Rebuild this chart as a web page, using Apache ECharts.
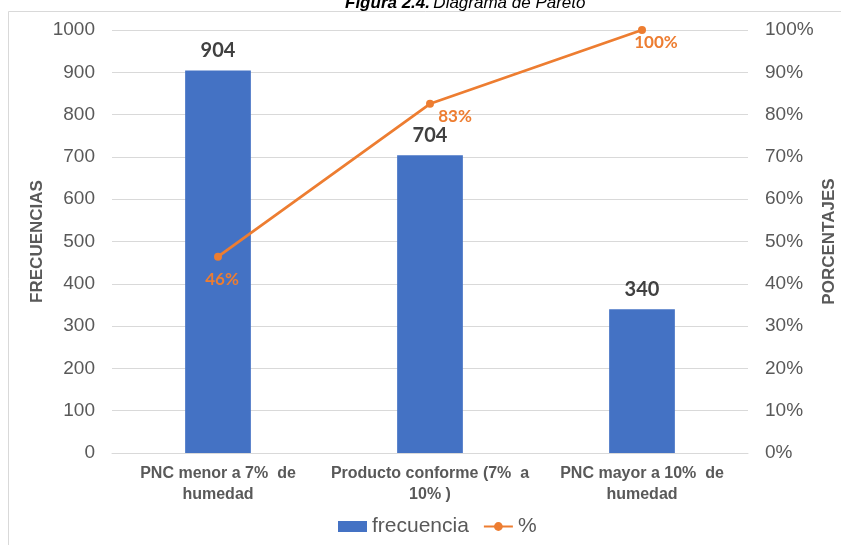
<!DOCTYPE html>
<html>
<head>
<meta charset="utf-8">
<script src="https://cdn.jsdelivr.net/npm/echarts@6/dist/echarts.min.js"></script>
<style>
  html, body { margin: 0; padding: 0; background: #fff; }
  #chart { width: 841px; height: 545px; }
</style>
</head>
<body>
<div id="chart"></div>
<script>
// Categories and values of the Pareto diagram
const categories = [
  'PNC menor a 7%  de\nhumedad',
  'Producto conforme (7%  a\n10% )',
  'PNC mayor a 10%  de\nhumedad'
];
const frecuencia = [904, 704, 340];
const porcentajeAcumulado = [46.41, 82.55, 100];
const leftTicks = [0, 100, 200, 300, 400, 500, 600, 700, 800, 900, 1000];
const rightTicks = ['0%', '10%', '20%', '30%', '40%', '50%', '60%', '70%', '80%', '90%', '100%'];

// per-point label nudges for the cumulative line
const lineLabelOffsets = [[4, 10], [25, 0], [14, 0]];

const axisFont = 'Liberation Sans, Arial, sans-serif';
const grey = '#595959';

const chart = echarts.init(document.getElementById('chart'), null, { renderer: 'canvas' });

chart.setOption({
  backgroundColor: '#fff',
  animation: false,
  graphic: [
    {
      type: 'rect',
      shape: { x: 8.5, y: 11.5, width: 900, height: 600 },
      style: { fill: 'none', stroke: '#d9d9d9', lineWidth: 1 },
      silent: true
    },
    {
      type: 'text',
      left: 345,
      top: -5,
      style: {
        text: '{b|Figura 2.4.} {i|Diagrama de Pareto}',
        rich: {
          b: { font: 'italic bold 17px Liberation Sans, Arial, sans-serif', fill: '#000' },
          i: { font: 'italic 17px Liberation Sans, Arial, sans-serif', fill: '#000' }
        }
      }
    }
  ],
  legend: {
    bottom: 3,
    left: 333,
    itemWidth: 29,
    itemHeight: 11,
    itemGap: 14,
    textStyle: { fontFamily: axisFont, fontSize: 21, color: grey },
    data: [
      { name: 'frecuencia', icon: 'rect' },
      { name: '%' }
    ]
  },
  grid: { left: 112, right: 93, top: 30, bottom: 92, containLabel: false, outerBoundsMode: 'none' },
  xAxis: {
    type: 'category',
    data: categories,
    axisLine: { lineStyle: { color: '#d9d9d9', width: 1 } },
    axisTick: { show: false },
    axisLabel: {
      fontFamily: axisFont,
      fontSize: 16,
      fontWeight: 'bold',
      color: grey,
      lineHeight: 21,
      margin: 10,
      interval: 0
    }
  },
  yAxis: [
    {
      type: 'value',
      min: 0,
      max: 1000,
      interval: 100,
      name: 'FRECUENCIAS',
      nameLocation: 'middle',
      nameGap: 66,
      nameMoveOverlap: false,
      nameRotate: 90,
      nameTextStyle: { fontFamily: axisFont, fontSize: 17, fontWeight: 'bold', color: grey },
      axisLine: { show: false },
      axisTick: { show: false },
      axisLabel: {
        fontFamily: axisFont, fontSize: 19, color: grey, margin: 17,
        formatter: v => String(leftTicks[Math.round(v / 100)])
      },
      splitLine: { lineStyle: { color: '#d9d9d9', width: 1 } }
    },
    {
      type: 'value',
      min: 0,
      max: 100,
      interval: 10,
      name: 'PORCENTAJES',
      nameLocation: 'middle',
      nameGap: 73,
      nameMoveOverlap: false,
      nameRotate: 90,
      nameTextStyle: { fontFamily: axisFont, fontSize: 17, fontWeight: 'bold', color: grey },
      axisLine: { show: false },
      axisTick: { show: false },
      axisLabel: {
        fontFamily: axisFont, fontSize: 19, color: grey, margin: 17,
        formatter: v => rightTicks[Math.round(v / 10)]
      },
      splitLine: { show: false }
    }
  ],
  series: [
    {
      name: 'frecuencia',
      type: 'bar',
      data: frecuencia,
      barWidth: '31%',
      itemStyle: { color: '#4472C4' },
      label: {
        show: true,
        position: 'top',
        distance: 10,
        fontFamily: 'Lato, Open Sans, sans-serif',
        fontSize: 20,
        fontWeight: 'bold',
        color: '#404040'
      }
    },
    {
      name: '%',
      type: 'line',
      yAxisIndex: 1,
      data: porcentajeAcumulado.map((v, i) => ({
        value: v,
        label: { offset: lineLabelOffsets[i] }
      })),
      symbol: 'circle',
      symbolSize: 8,
      lineStyle: { color: '#ED7D31', width: 2.75 },
      itemStyle: { color: '#ED7D31' },
      label: {
        show: true,
        position: 'bottom',
        distance: 0,
        fontFamily: 'Lato, Open Sans, sans-serif',
        fontSize: 17,
        fontWeight: 'bold',
        color: '#ED7D31',
        formatter: p => Math.round(p.value) + '%'
      }
    }
  ]
});
</script>
</body>
</html>
